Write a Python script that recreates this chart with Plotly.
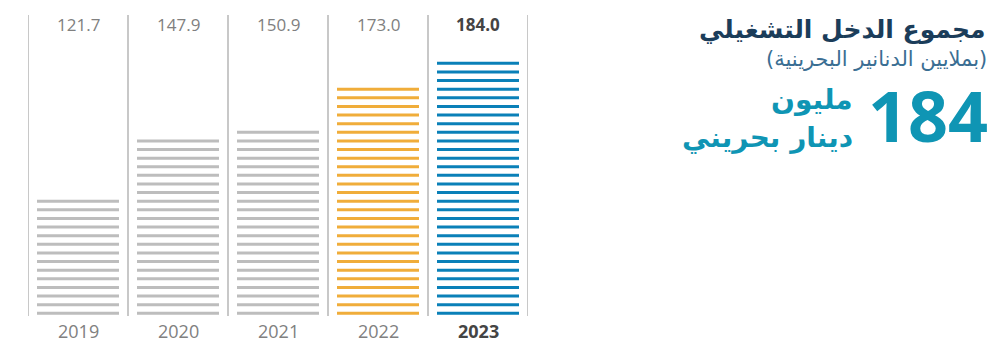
import plotly.graph_objects as go

years = ["2019", "2020", "2021", "2022", "2023"]
values = [121.7, 147.9, 150.9, 173.0, 184.0]
value_labels = ["121.7", "147.9", "150.9", "173.0", "184.0"]
colors = ["#bdbdbd", "#bdbdbd", "#bdbdbd", "#f0ad3a", "#0a80b8"]
bold = [False, False, False, False, True]

stripe_base = 68.5
stripe_step = 3.9
half_w = 0.41

fig = go.Figure()
for i, (v, c) in enumerate(zip(values, colors)):
    xs, ys = [], []
    n = int((v - stripe_base) // stripe_step) + 1
    for k in range(n):
        y = stripe_base + k * stripe_step
        xs += [i - half_w, i + half_w, None]
        ys += [y, y, None]
    fig.add_trace(go.Scatter(x=xs, y=ys, mode="lines",
                             line=dict(color=c, width=3), hoverinfo="skip",
                             showlegend=False))

shapes = []
for j in range(len(years) + 1):
    shapes.append(dict(type="line", xref="x", yref="paper", x0=j - 0.5, x1=j - 0.5,
                       y0=0, y1=1, line=dict(color="#c8c8c8", width=2)))

ann = []
for i, (yr, lab, b) in enumerate(zip(years, value_labels, bold)):
    col = "#444444" if b else "#808080"
    fam = "Open Sans"
    ann.append(dict(x=i, y=1, xref="x", yref="paper", yshift=-9, yanchor="middle",
                    text=f"<b>{lab}</b>" if b else lab, showarrow=False,
                    font=dict(size=17, color=col, family=fam)))
    ann.append(dict(x=i, y=0, xref="x", yref="paper", yshift=-15, yanchor="middle",
                    text=f"<b>{yr}</b>" if b else yr, showarrow=False,
                    font=dict(size=18, color=col, family=fam)))

arab = "DejaVu Sans, Noto Sans, sans-serif"
ann += [
    dict(xref="paper", yref="paper", x=(988 - 28) / 500, y=(342 - 30 - 26) / 301,
         xanchor="right", yanchor="middle", showarrow=False,
         text="<b>مجموع الدخل التشغيلي</b>",
         font=dict(size=25, color="#1b3d5a", family=arab)),
    dict(xref="paper", yref="paper", x=(989 - 28) / 500, y=(342 - 59 - 26) / 301,
         xanchor="right", yanchor="middle", showarrow=False,
         text="(بملايين الدنانير البحرينية)",
         font=dict(size=21, color="#3a6e93", family=arab)),
    dict(xref="paper", yref="paper", x=(990 - 28) / 500, y=(342 - 115 - 26) / 301,
         xanchor="right", yanchor="middle", showarrow=False,
         text="<b>184</b>",
         font=dict(size=70, color="#0f95b4", family="Open Sans")),
    dict(xref="paper", yref="paper", x=(855 - 28) / 500, y=(342 - 100 - 26) / 301,
         xanchor="right", yanchor="middle", showarrow=False,
         text="<b>مليون</b>",
         font=dict(size=28, color="#0f95b4", family=arab)),
    dict(xref="paper", yref="paper", x=(855 - 28) / 500, y=(342 - 137 - 26) / 301,
         xanchor="right", yanchor="middle", showarrow=False,
         text="<b>دينار بحريني</b>",
         font=dict(size=28, color="#0f95b4", family=arab)),
]

fig.update_layout(
    width=1003, height=342,
    margin=dict(l=28, r=475, t=15, b=26),
    paper_bgcolor="white", plot_bgcolor="white",
    xaxis=dict(range=[-0.5, 4.5], visible=False, fixedrange=True),
    yaxis=dict(range=[67.28, 203.45], visible=False, fixedrange=True),
    shapes=shapes, annotations=ann, showlegend=False,
)
fig.write_html("out.html")
